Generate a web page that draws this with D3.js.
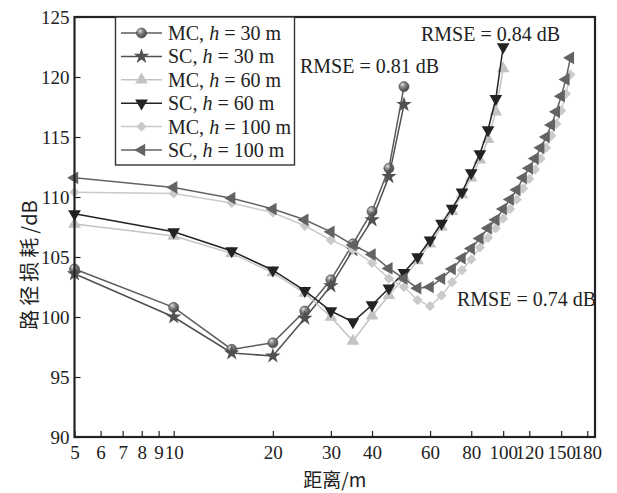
<!DOCTYPE html>
<html>
<head>
<meta charset="utf-8">
<script src="https://cdn.jsdelivr.net/npm/d3@7"></script>
<style>
	body { margin: 0; background: #fff; }
	svg text { font-family: "Liberation Serif", "DejaVu Serif", serif; fill: #222; }
	.cjk { font-family: "Noto Sans CJK SC", sans-serif; }
</style>
</head>
<body>
<svg id="chart" width="617" height="493"></svg>
<script>
// distances (m)
const dist30 = [5, 10, 15, 20, 25, 30, 35, 40, 45, 50];
const dist60 = [5, 10, 15, 20, 25, 30, 35, 40, 45, 50, 55, 60, 65, 70, 75, 80, 85, 90, 95, 100];
const dist100 = [5, 10, 15, 20, 25, 30, 35, 40, 45, 50, 55, 60, 65, 70, 75, 80,
	85, 90, 95, 100, 105, 110, 115, 120, 125, 130, 135, 140, 145, 150, 155, 160];

// path loss (dB)
const mc30 = [104.0, 100.8, 97.3, 97.85, 100.5, 103.1, 106.1, 108.8, 112.4, 119.2];
const sc30 = [103.6, 100.0, 97.0, 96.75, 99.9, 102.6, 105.6, 108.1, 111.7, 117.7];
const mc60 = [107.75, 106.75, 105.3, 103.7, 102.0, 100.0, 98.0, 100.1, 101.8, 103.3,
	104.7, 106.1, 107.5, 108.8, 110.2, 111.6, 113.1, 114.8, 117.1, 120.7];
const sc60 = [108.6, 107.1, 105.5, 103.9, 102.2, 100.5, 99.6, 101.0, 102.4, 103.7,
	105.0, 106.4, 107.8, 109.05, 110.4, 112.0, 113.6, 115.6, 118.2, 122.5];
const mc100 = [110.4, 110.3, 109.5, 108.7, 107.6, 106.4, 105.6, 104.5, 103.2, 102.5,
	101.4, 100.9, 101.8, 102.9, 103.9, 104.8, 105.8, 106.6, 107.4, 108.2,
	109.0, 109.8, 110.7, 111.5, 112.3, 113.2, 114.1, 115.1, 116.1, 117.2, 118.6, 120.2];
const sc100 = [111.6, 110.8, 109.9, 109.0, 108.1, 107.1, 106.0, 105.2, 104.05, 103.2,
	102.4, 102.5, 103.2, 104.0, 104.9, 105.7, 106.55, 107.4, 108.1, 109.0,
	109.8, 110.6, 111.6, 112.4, 113.2, 114.1, 115.0, 116.0, 117.1, 118.4, 119.8, 121.6];

const seriesNames = ["MC", "SC", "MC", "SC", "MC", "SC"];
const seriesHeights = ["30", "30", "60", "60", "100", "100"];

const xTicks = [5, 6, 7, 8, 9, 10, 20, 30, 40, 60, 80, 100, 120, 150, 180];
const yTicks = [90, 95, 100, 105, 110, 115, 120, 125];

const rmseLabels = ["RMSE = 0.81 dB", "RMSE = 0.84 dB", "RMSE = 0.74 dB"];

// ---- layout
const L = 74.5, R = 595, T = 17, B = 437;
const svg = d3.select("#chart");

const x = d3.scaleLog().domain([5, 190]).range([L, R]);
const y = d3.scaleLinear().domain([90, 125]).range([B, T]);

const defs = svg.append("defs");
const grad = defs.append("radialGradient").attr("id", "ball")
	.attr("cx", "40%").attr("cy", "35%").attr("r", "65%").attr("fx", "35%").attr("fy", "30%");
grad.append("stop").attr("offset", "0%").attr("stop-color", "#e0e0e0");
grad.append("stop").attr("offset", "45%").attr("stop-color", "#7f7f7f");
grad.append("stop").attr("offset", "100%").attr("stop-color", "#444");

// styles per series
const styles = [
	{ line: "#5c5c5c", fill: "url(#ball)", sym: d3.symbolCircle, size: 80, rot: 0 },
	{ line: "#505050", fill: "#505050", sym: d3.symbolStar, size: 75, rot: 0 },
	{ line: "#c3c3c3", fill: "#c3c3c3", sym: d3.symbolTriangle, size: 70, rot: 0 },
	{ line: "#232323", fill: "#232323", sym: d3.symbolTriangle, size: 70, rot: 180 },
	{ line: "#cacaca", fill: "#cacaca", sym: d3.symbolSquare, size: 52, rot: 45 },
	{ line: "#636363", fill: "#636363", sym: d3.symbolTriangle, size: 70, rot: -90 }
];

const series = [
	{ xs: dist30, ys: mc30 }, { xs: dist30, ys: sc30 },
	{ xs: dist60, ys: mc60 }, { xs: dist60, ys: sc60 },
	{ xs: dist100, ys: mc100 }, { xs: dist100, ys: sc100 }
];

// axes (ticks point inward)
const xAxis = d3.axisBottom(x).tickValues(xTicks).tickFormat(d3.format("d"))
	.tickSizeInner(-6).tickSizeOuter(0).tickPadding(9);
const gx = svg.append("g").attr("transform", `translate(0,${B})`).call(xAxis);
gx.selectAll("text").attr("font-size", 19).attr("fill", "#222")
	.style("font-family", "Liberation Serif");

const yAxis = d3.axisLeft(y).tickValues(yTicks).tickSizeInner(-6).tickSizeOuter(0).tickPadding(5);
const gy = svg.append("g").attr("transform", `translate(${L},0)`).call(yAxis);
gy.selectAll("text").attr("font-size", 19).attr("fill", "#222")
	.style("font-family", "Liberation Serif");

svg.selectAll(".domain").remove();
svg.selectAll(".tick line").attr("stroke", "#222").attr("stroke-width", 1.2);

// lines and markers
const line = d3.line();
series.forEach((s, i) => {
	const st = styles[i];
	const pts = s.xs.map((d, j) => [x(d), y(s.ys[j])]);
	svg.append("path").attr("d", line(pts))
		.attr("fill", "none").attr("stroke", st.line).attr("stroke-width", 1.5);
	const sym = d3.symbol().type(st.sym).size(st.size);
	svg.append("g").selectAll("path").data(pts).join("path")
		.attr("d", sym)
		.attr("transform", d => `translate(${d[0]},${d[1]}) rotate(${st.rot})`)
		.attr("fill", st.fill)
		.attr("stroke", i === 0 ? "#4a4a4a" : "none")
		.attr("stroke-width", 0.6);
});

// frame
svg.append("rect").attr("x", L).attr("y", T).attr("width", R - L).attr("height", B - T)
	.attr("fill", "none").attr("stroke", "#222").attr("stroke-width", 2.2);

// legend
const lg = svg.append("g");
lg.append("rect").attr("x", 115.5).attr("y", T).attr("width", 179).attr("height", 148)
	.attr("fill", "#fff").attr("stroke", "#333").attr("stroke-width", 1.4);
seriesNames.forEach((nm, i) => {
	const st = styles[i];
	const cy = 33 + i * 23.4;
	lg.append("line").attr("x1", 121).attr("x2", 162).attr("y1", cy).attr("y2", cy)
		.attr("stroke", st.line).attr("stroke-width", 1.5);
	lg.append("path").attr("d", d3.symbol().type(st.sym).size(st.size))
		.attr("transform", `translate(141.5,${cy}) rotate(${st.rot})`)
		.attr("fill", st.fill)
		.attr("stroke", i === 0 ? "#4a4a4a" : "none").attr("stroke-width", 0.6);
	const t = lg.append("text").attr("x", 168).attr("y", cy + 7).attr("font-size", 20);
	t.append("tspan").text(nm + ", ");
	t.append("tspan").attr("font-style", "italic").text("h");
	t.append("tspan").text(" = " + seriesHeights[i] + " m");
});

// RMSE annotations
const rmsePos = [[300, 73], [421, 41], [457, 306]];
rmseLabels.forEach((txt, i) => {
	svg.append("text").attr("x", rmsePos[i][0]).attr("y", rmsePos[i][1])
		.attr("font-size", 20).text(txt);
});

// axis titles
svg.append("text").attr("class", "cjk")
	.attr("x", (L + R) / 2).attr("y", 487).attr("text-anchor", "middle")
	.attr("font-size", 19).text("距离/m");
const yt = svg.append("text").attr("class", "cjk")
	.attr("transform", "translate(37,265) rotate(-90)").attr("text-anchor", "middle")
	.attr("font-size", 20);
yt.append("tspan").attr("letter-spacing", 4).text("路径损耗");
yt.append("tspan").text("/dB");
</script>
</body>
</html>
